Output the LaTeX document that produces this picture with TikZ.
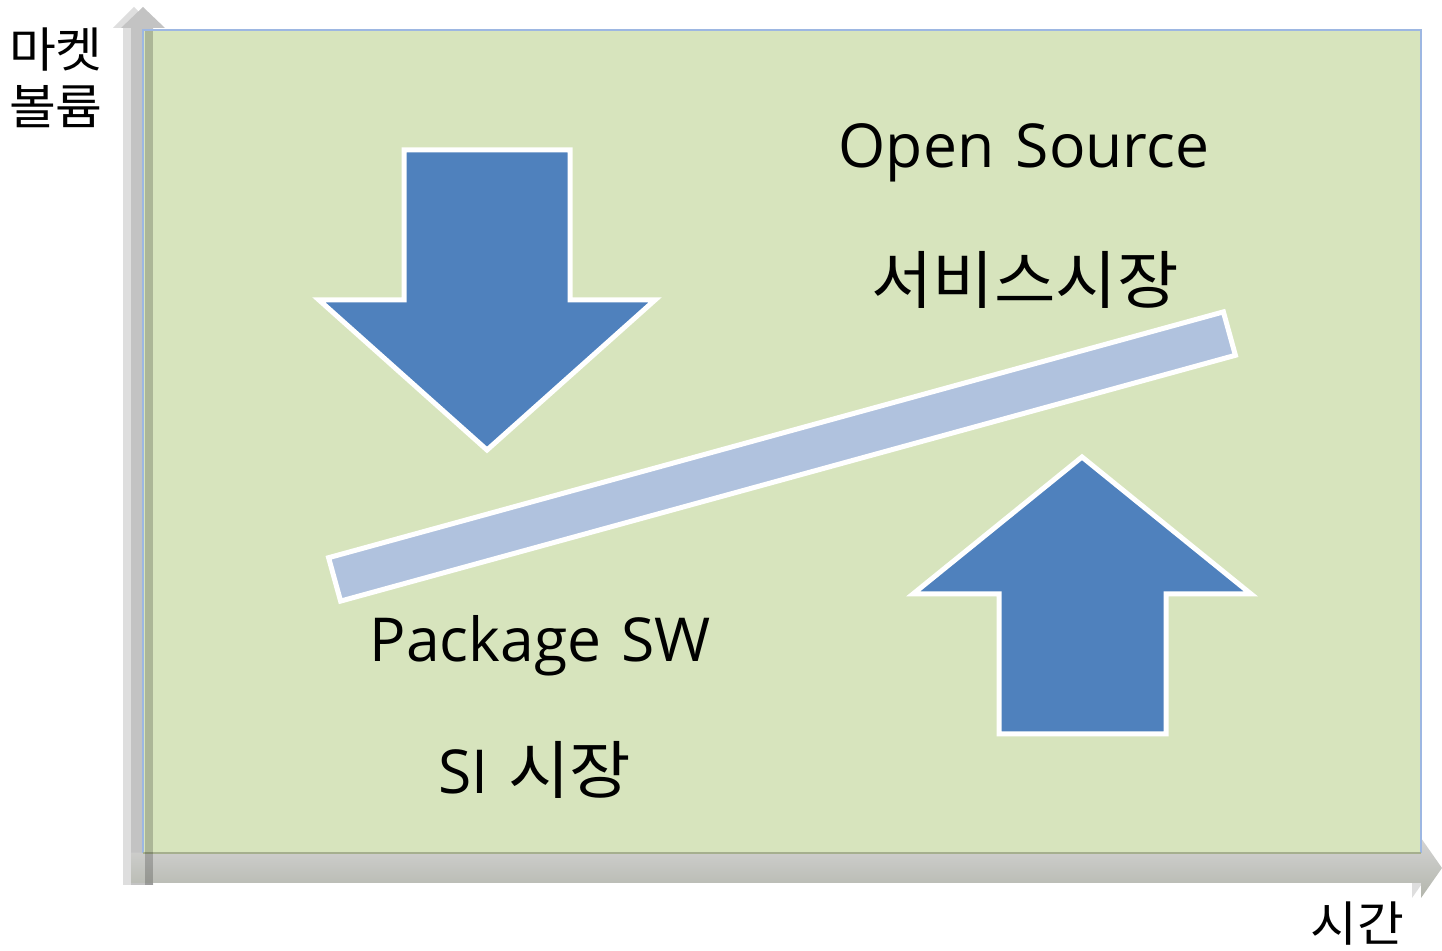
\documentclass[tikz,border=0pt]{standalone}
\usepackage{fontspec}
\setmainfont{Open Sans}
\newfontfamily\kr[FakeStretch=1.06]{Noto Sans CJK KR}

\definecolor{plane}{HTML}{D7E4BD}
\definecolor{planeedge}{HTML}{9DB7E2}
\definecolor{planebottom}{HTML}{A5AF8E}
\definecolor{arrowblue}{HTML}{4F81BD}
\definecolor{barblue}{HTML}{B0C2DE}
\definecolor{axislight}{HTML}{DEDEDE}
\definecolor{axismid}{HTML}{C3C3C3}
\definecolor{axistop}{HTML}{D4D4D4}
\definecolor{axisbottom}{HTML}{B3B6AC}

\tikzset{
  bigarrow/.style={fill=arrowblue, draw=white, line width=2.5pt, line join=miter},
  trendbar/.style={fill=barblue, draw=white, line width=2.5pt, line join=miter},
  biglabel/.style={inner sep=0pt, anchor=base, font=\fontsize{30.3}{36}\selectfont},
  krlabel/.style={inner sep=0pt, anchor=base, font=\kr\fontsize{31.5}{38}\selectfont},
  axislabel/.style={inner sep=0pt, anchor=base, font=\kr\fontsize{24}{29}\selectfont},
}

\begin{document}
\begin{tikzpicture}[x=0.5pt, y=-0.5pt]
\useasboundingbox (0,0) rectangle (1442,951);

% vertical axis: light back layer and mid-grey front layer
\fill[axislight] (123,885) -- (123,28) -- (113,28) -- (134,7) -- (155,28) -- (145,28) -- (145,885) -- cycle;
\fill[axismid] (131,885) -- (131,28) -- (121,28) -- (143,7) -- (165,28) -- (153,28) -- (153,885) -- cycle;

% horizontal axis: light back layer and shaded front layer
\fill[axislight] (123,853) -- (1412,853) -- (1412,838) -- (1433,868) -- (1412,898) -- (1412,883) -- (123,883) -- cycle;
\shade[top color=axistop, bottom color=axisbottom]
  (131,853) -- (1421,853) -- (1421,838) -- (1442,868) -- (1421,898) -- (1421,883) -- (131,883) -- cycle;

% plot plane
\fill[plane] (143,30) rectangle (1421,853);
\draw[planeedge, line width=1.2pt] (143,853) -- (143,30) -- (1421,30) -- (1421,853);
\draw[planebottom, line width=0.6pt] (143,853) -- (1421,853);

% shadow of the vertical axis over the plane
\fill[black, opacity=0.2] (145,31) rectangle (153,885);

% downward arrow
\draw[bigarrow] (404,150) -- (570,150) -- (570,300) -- (655,300) -- (487,450)
  -- (319,300) -- (404,300) -- cycle;

% upward arrow
\draw[bigarrow] (999,734) -- (999,594) -- (913,594) -- (1082,457) -- (1251,594)
  -- (1166,594) -- (1166,734) -- cycle;

% rising trend bar
\draw[trendbar] (328.6,557.7) -- (1223.4,311.9) -- (1235.4,355.3) -- (340.6,601.1) -- cycle;

% labels
\node[biglabel] (open) at (1024,168) {Open\hspace{3pt} Source};
\node[krlabel] (service) at (1025,304) {서비스시장};
\node[biglabel] (package) at (540,662) {Package\hspace{2pt} SW};
\node[biglabel] (si) at (535,794) {SI\hspace{2pt} {\kr\fontsize{31.5}{38}\selectfont 시장}};

\node[axislabel] (yl1) at (56,68) {마켓};
\node[axislabel] (yl2) at (56,125) {볼륨};
\node[axislabel] (xl) at (1357,942) {시간};
\end{tikzpicture}
\end{document}
